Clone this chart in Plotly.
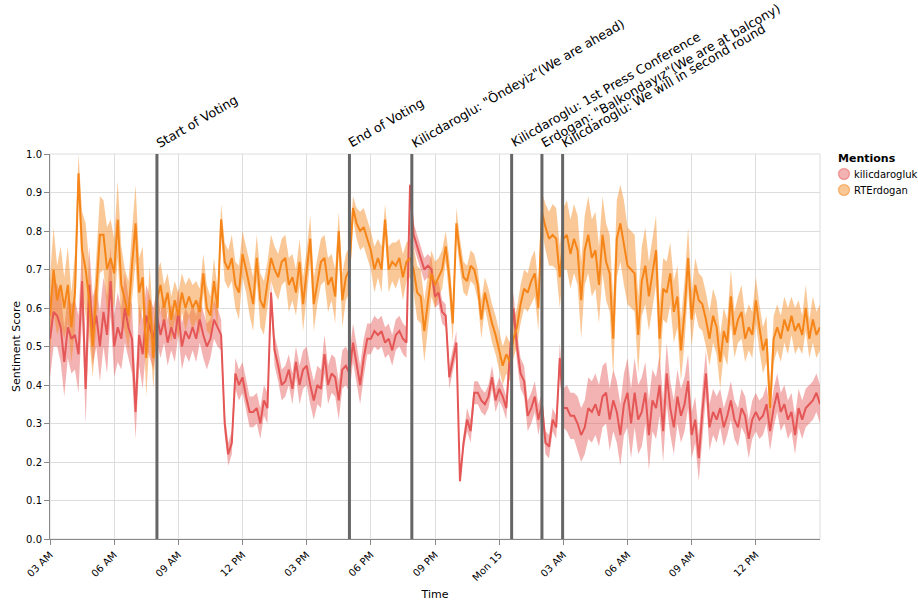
import plotly.graph_objects as go
import pandas as pd

# ---------------- data ----------------
start_time = "2023-05-14 03:00"
n_points = 217
times = pd.date_range(start_time, periods=n_points, freq="10min")

series_names = ["kilicdarogluk", "RTErdogan"]
series_colors = ["#e45756", "#f58518"]
band_colors = ["rgba(228,87,86,0.45)", "rgba(245,133,24,0.45)"]

kilic_mean = [
    0.52, 0.59, 0.58, 0.55, 0.46, 0.55, 0.52, 0.53, 0.48, 0.67,
    0.39, 0.66, 0.54, 0.58, 0.50, 0.59, 0.53, 0.67, 0.50, 0.55,
    0.52, 0.60, 0.55, 0.52, 0.33, 0.53, 0.48, 0.58, 0.55, 0.52,
    0.58, 0.53, 0.57, 0.51, 0.55, 0.52, 0.59, 0.50, 0.54, 0.52,
    0.55, 0.52, 0.57, 0.53, 0.50, 0.52, 0.57, 0.55, 0.53, 0.30,
    0.22, 0.25, 0.43, 0.40, 0.42, 0.37, 0.33, 0.33, 0.34, 0.30,
    0.36, 0.34, 0.64, 0.49, 0.45, 0.40, 0.41, 0.44, 0.39, 0.46,
    0.40, 0.44, 0.45, 0.40, 0.36, 0.40, 0.39, 0.48, 0.40, 0.43,
    0.42, 0.36, 0.44, 0.45, 0.43, 0.51, 0.45, 0.40, 0.47, 0.52,
    0.52, 0.54, 0.53, 0.54, 0.51, 0.52, 0.49, 0.53, 0.54, 0.52,
    0.51, 0.92, 0.79, 0.76, 0.73, 0.70, 0.71, 0.70, 0.63, 0.64,
    0.59, 0.58, 0.42, 0.47, 0.51, 0.15, 0.25, 0.31, 0.28, 0.38,
    0.38, 0.36, 0.35, 0.37, 0.42, 0.36, 0.39, 0.37, 0.34, 0.48,
    0.60, 0.50, 0.43, 0.41, 0.32, 0.34, 0.37, 0.31, 0.35, 0.25,
    0.24, 0.31, 0.29, 0.47, 0.34, 0.34, 0.32, 0.32, 0.30, 0.27,
    0.29, 0.34, 0.33, 0.35, 0.32, 0.37, 0.38, 0.31, 0.36, 0.33,
    0.27, 0.35, 0.38, 0.30, 0.38, 0.31, 0.33, 0.38, 0.27, 0.36,
    0.34, 0.40, 0.28, 0.43, 0.34, 0.29, 0.37, 0.32, 0.35, 0.41,
    0.27, 0.31, 0.21, 0.33, 0.43, 0.29, 0.33, 0.31, 0.34, 0.29,
    0.32, 0.36, 0.31, 0.29, 0.34, 0.32, 0.26, 0.31, 0.33, 0.31,
    0.32, 0.35, 0.28, 0.34, 0.38, 0.33, 0.35, 0.31, 0.33, 0.27,
    0.34, 0.31, 0.34, 0.35, 0.36, 0.38, 0.35,
]
kilic_halfwidth = [
    0.10, 0.09, 0.08, 0.09, 0.09, 0.08, 0.09, 0.09, 0.10, 0.09,
    0.09, 0.10, 0.09, 0.08, 0.09, 0.09, 0.10, 0.09, 0.08, 0.09,
    0.08, 0.09, 0.08, 0.09, 0.07, 0.08, 0.09, 0.08, 0.08, 0.08,
    0.07, 0.06, 0.06, 0.06, 0.06, 0.06, 0.06, 0.06, 0.06, 0.06,
    0.06, 0.06, 0.06, 0.06, 0.06, 0.05, 0.05, 0.05, 0.04, 0.03,
    0.03, 0.03, 0.04, 0.04, 0.04, 0.04, 0.04, 0.04, 0.04, 0.04,
    0.04, 0.04, 0.03, 0.04, 0.04, 0.04, 0.04, 0.04, 0.04, 0.04,
    0.05, 0.05, 0.05, 0.05, 0.05, 0.05, 0.05, 0.05, 0.05, 0.05,
    0.05, 0.05, 0.05, 0.05, 0.05, 0.05, 0.05, 0.05, 0.05, 0.04,
    0.04, 0.04, 0.04, 0.04, 0.04, 0.04, 0.04, 0.04, 0.04, 0.04,
    0.04, 0.01, 0.03, 0.03, 0.03, 0.03, 0.03, 0.03, 0.03, 0.03,
    0.03, 0.03, 0.03, 0.03, 0.03, 0.01, 0.02, 0.03, 0.03, 0.03,
    0.03, 0.03, 0.03, 0.03, 0.03, 0.03, 0.03, 0.03, 0.03, 0.03,
    0.04, 0.04, 0.04, 0.04, 0.04, 0.04, 0.04, 0.04, 0.03, 0.03,
    0.03, 0.03, 0.03, 0.04, 0.05, 0.06, 0.06, 0.06, 0.07, 0.07,
    0.07, 0.08, 0.08, 0.08, 0.08, 0.08, 0.08, 0.08, 0.08, 0.08,
    0.08, 0.08, 0.09, 0.09, 0.09, 0.09, 0.09, 0.08, 0.09, 0.08,
    0.08, 0.08, 0.08, 0.08, 0.07, 0.07, 0.07, 0.07, 0.07, 0.07,
    0.06, 0.06, 0.06, 0.06, 0.06, 0.06, 0.06, 0.06, 0.05, 0.05,
    0.05, 0.05, 0.05, 0.05, 0.05, 0.05, 0.05, 0.05, 0.05, 0.05,
    0.05, 0.05, 0.05, 0.05, 0.05, 0.05, 0.05, 0.05, 0.05, 0.05,
    0.05, 0.05, 0.05, 0.05, 0.05, 0.05, 0.05,
]

erdogan_mean = [
    0.58, 0.70, 0.62, 0.66, 0.60, 0.66, 0.55, 0.64, 0.95, 0.75,
    0.70, 0.62, 0.50, 0.65, 0.79, 0.79, 0.70, 0.73, 0.69, 0.83,
    0.66, 0.62, 0.58, 0.71, 0.82, 0.64, 0.68, 0.47, 0.62, 0.47,
    0.62, 0.66, 0.60, 0.64, 0.57, 0.62, 0.58, 0.64, 0.60, 0.63,
    0.60, 0.62, 0.59, 0.69, 0.60, 0.58, 0.67, 0.60, 0.83, 0.72,
    0.70, 0.73, 0.66, 0.64, 0.74, 0.70, 0.65, 0.61, 0.73, 0.62,
    0.60, 0.66, 0.73, 0.70, 0.68, 0.72, 0.73, 0.66, 0.68, 0.64,
    0.72, 0.61, 0.69, 0.78, 0.61, 0.67, 0.72, 0.73, 0.66, 0.68,
    0.63, 0.80, 0.62, 0.68, 0.70, 0.86, 0.82, 0.80, 0.81, 0.78,
    0.75, 0.70, 0.73, 0.70, 0.83, 0.70, 0.72, 0.71, 0.73, 0.68,
    0.72, 0.73, 0.70, 0.64, 0.63, 0.54, 0.62, 0.69, 0.66, 0.68,
    0.70, 0.76, 0.68, 0.56, 0.82, 0.74, 0.68, 0.67, 0.71, 0.70,
    0.66, 0.57, 0.64, 0.60, 0.56, 0.53, 0.49, 0.45, 0.48, 0.46,
    0.52, 0.55, 0.61, 0.65, 0.64, 0.67, 0.69, 0.60, 0.85, 0.81,
    0.78, 0.79, 0.78, 0.68, 0.78, 0.79, 0.74, 0.78, 0.75, 0.62,
    0.75, 0.79, 0.73, 0.75, 0.66, 0.79, 0.72, 0.69, 0.52, 0.78,
    0.82, 0.77, 0.71, 0.70, 0.69, 0.53, 0.67, 0.71, 0.63, 0.69,
    0.75, 0.52, 0.65, 0.64, 0.69, 0.59, 0.63, 0.49, 0.59, 0.73,
    0.57, 0.66, 0.62, 0.61, 0.57, 0.52, 0.58, 0.55, 0.46, 0.54,
    0.51, 0.63, 0.53, 0.57, 0.59, 0.52, 0.55, 0.53, 0.62, 0.55,
    0.49, 0.52, 0.34, 0.52, 0.55, 0.52, 0.57, 0.54, 0.58, 0.54,
    0.56, 0.53, 0.60, 0.52, 0.57, 0.53, 0.55,
]
erdogan_halfwidth = [
    0.10, 0.11, 0.09, 0.10, 0.08, 0.10, 0.09, 0.10, 0.05, 0.10,
    0.12, 0.10, 0.08, 0.10, 0.10, 0.09, 0.11, 0.10, 0.09, 0.10,
    0.10, 0.08, 0.09, 0.09, 0.10, 0.09, 0.08, 0.10, 0.09, 0.08,
    0.07, 0.06, 0.06, 0.05, 0.06, 0.05, 0.06, 0.05, 0.06, 0.05,
    0.06, 0.05, 0.06, 0.05, 0.06, 0.05, 0.06, 0.05, 0.04, 0.05,
    0.05, 0.06, 0.06, 0.07, 0.06, 0.06, 0.07, 0.07, 0.06, 0.07,
    0.07, 0.06, 0.06, 0.06, 0.06, 0.06, 0.06, 0.07, 0.06, 0.06,
    0.06, 0.07, 0.06, 0.06, 0.07, 0.06, 0.06, 0.06, 0.07, 0.06,
    0.07, 0.05, 0.07, 0.06, 0.06, 0.03, 0.04, 0.05, 0.05, 0.05,
    0.05, 0.06, 0.05, 0.06, 0.04, 0.06, 0.05, 0.06, 0.05, 0.06,
    0.05, 0.05, 0.06, 0.07, 0.07, 0.08, 0.07, 0.06, 0.06, 0.05,
    0.05, 0.04, 0.05, 0.05, 0.04, 0.04, 0.04, 0.04, 0.04, 0.04,
    0.04, 0.05, 0.04, 0.05, 0.05, 0.05, 0.05, 0.05, 0.05, 0.05,
    0.05, 0.05, 0.05, 0.05, 0.05, 0.06, 0.06, 0.06, 0.05, 0.06,
    0.07, 0.08, 0.08, 0.08, 0.08, 0.09, 0.09, 0.09, 0.09, 0.10,
    0.09, 0.10, 0.10, 0.10, 0.10, 0.10, 0.10, 0.10, 0.10, 0.10,
    0.10, 0.11, 0.10, 0.10, 0.10, 0.10, 0.09, 0.10, 0.09, 0.09,
    0.09, 0.09, 0.08, 0.08, 0.08, 0.08, 0.08, 0.08, 0.08, 0.08,
    0.07, 0.07, 0.07, 0.07, 0.07, 0.07, 0.07, 0.07, 0.07, 0.06,
    0.06, 0.07, 0.06, 0.06, 0.07, 0.06, 0.06, 0.06, 0.06, 0.06,
    0.06, 0.06, 0.05, 0.06, 0.06, 0.06, 0.06, 0.06, 0.05, 0.06,
    0.06, 0.05, 0.06, 0.05, 0.06, 0.06, 0.06,
]

event_times = [
    "2023-05-14 08:00", "2023-05-14 17:00", "2023-05-14 19:55",
    "2023-05-15 00:35", "2023-05-15 02:00", "2023-05-15 02:58",
]
event_labels = [
    "Start of Voting",
    "End of Voting",
    "Kilicdaroglu: \"Öndeyiz\"(We are ahead)",
    "Kilicdaroglu: 1st Press Conference",
    "Erdogan: \"Balkondayız\"(We are at balcony)",
    "Kilicdaroglu: We will in second round",
]

x_tick_vals = [
    "2023-05-14 03:00", "2023-05-14 06:00", "2023-05-14 09:00", "2023-05-14 12:00",
    "2023-05-14 15:00", "2023-05-14 18:00", "2023-05-14 21:00", "2023-05-15 00:00",
    "2023-05-15 03:00", "2023-05-15 06:00", "2023-05-15 09:00", "2023-05-15 12:00",
]
x_tick_text = ["03 AM", "06 AM", "09 AM", "12 PM", "03 PM", "06 PM", "09 PM",
               "Mon 15", "03 AM", "06 AM", "09 AM", "12 PM"]
y_tick_vals = [0.0, 0.1, 0.2, 0.3, 0.4, 0.5, 0.6, 0.7, 0.8, 0.9, 1.0]

# ---------------- figure ----------------
FONT = "DejaVu Sans"
means = [kilic_mean, erdogan_mean]
halfwidths = [kilic_halfwidth, erdogan_halfwidth]

# plot-area pixel box
PL, PR, PT, PB = 50, 820, 154, 539
W, H = 918, 601


def px_to_paper_x(px):
    return (px - PL) / (PR - PL)


def px_to_paper_y(py):
    return (PB - py) / (PB - PT)


fig = go.Figure()

# error bands
for name, m, hw, bc in zip(series_names, means, halfwidths, band_colors):
    lower = [a - b for a, b in zip(m, hw)]
    upper = [a + b for a, b in zip(m, hw)]
    fig.add_trace(go.Scatter(x=times, y=lower, mode="lines", line=dict(width=0),
                             showlegend=False, hoverinfo="skip"))
    fig.add_trace(go.Scatter(x=times, y=upper, mode="lines", line=dict(width=0),
                             fill="tonexty", fillcolor=bc, showlegend=False,
                             hoverinfo="skip", name=name))

# mean lines
for name, m, c in zip(series_names, means, series_colors):
    fig.add_trace(go.Scatter(x=times, y=m, mode="lines", name=name,
                             line=dict(color=c, width=2), showlegend=False))

shapes = []
annotations = []

# plot border
shapes.append(dict(type="rect", xref="paper", yref="paper", x0=0, x1=1, y0=0, y1=1,
                   line=dict(color="#dddddd", width=1), layer="below"))

# event rules and labels
for t, lab in zip(event_times, event_labels):
    shapes.append(dict(type="line", xref="x", yref="paper", x0=t, x1=t, y0=0, y1=1,
                       line=dict(color="#666666", width=3), layer="above"))
    annotations.append(dict(x=t, y=1, xref="x", yref="paper", text=lab,
                            showarrow=False, textangle=-30, xanchor="left",
                            yanchor="bottom", xshift=-6, yshift=1,
                            font=dict(family=FONT, size=12.7, color="#000")))

# manual legend
annotations.append(dict(x=px_to_paper_x(836), y=px_to_paper_y(158), xref="paper",
                        yref="paper", text="<b>Mentions</b>", showarrow=False,
                        xanchor="left", yanchor="middle",
                        font=dict(family=FONT, size=11, color="#000")))
legend_y = [174, 190]
for name, bc, ly in zip(series_names, band_colors, legend_y):
    shapes.append(dict(type="circle", xref="paper", yref="paper",
                       xsizemode="pixel", ysizemode="pixel",
                       xanchor=px_to_paper_x(844), yanchor=px_to_paper_y(ly),
                       x0=-5.5, x1=5.5, y0=-5.5, y1=5.5,
                       fillcolor=bc, line=dict(color=bc, width=1.5)))
    annotations.append(dict(x=px_to_paper_x(852), y=px_to_paper_y(ly), xref="paper",
                            yref="paper", text=name, showarrow=False,
                            xanchor="left", yanchor="middle",
                            font=dict(family=FONT, size=10, color="#000")))

fig.update_layout(
    width=W, height=H,
    margin=dict(l=PL, r=W - PR, t=PT, b=H - PB, autoexpand=False),
    paper_bgcolor="white", plot_bgcolor="white",
    font=dict(family=FONT, size=10, color="#000"),
    showlegend=False,
    xaxis=dict(
        type="date",
        range=[times[0], times[-1]],
        tickvals=x_tick_vals, ticktext=x_tick_text, tickangle=-45,
        showgrid=True, gridcolor="#dddddd", gridwidth=1,
        showline=True, linecolor="#888888", linewidth=1,
        ticks="outside", ticklen=5, tickcolor="#888888",
        tickfont=dict(family=FONT, size=10, color="#000"),
        title=dict(text="Time", font=dict(family=FONT, size=11, color="#000"), standoff=9),
        zeroline=False,
    ),
    yaxis=dict(
        range=[0, 1],
        tickvals=y_tick_vals, tickformat=".1f",
        showgrid=True, gridcolor="#dddddd", gridwidth=1,
        showline=True, linecolor="#888888", linewidth=1,
        ticks="outside", ticklen=5, tickcolor="#888888",
        tickfont=dict(family=FONT, size=10, color="#000"),
        title=dict(text="Sentiment Score", font=dict(family=FONT, size=11, color="#000"), standoff=3),
        zeroline=False,
    ),
    shapes=shapes,
    annotations=annotations,
)

fig.write_html(
    "out.html",
    config={"displayModeBar": False},
    post_script="document.body.style.margin='0px';document.body.style.overflow='hidden';",
)
